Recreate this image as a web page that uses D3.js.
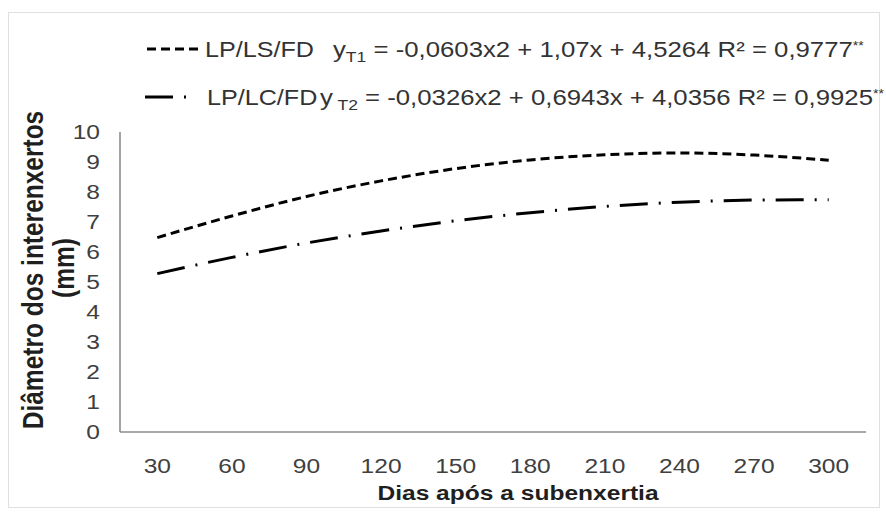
<!DOCTYPE html>
<html>
<head>
<meta charset="utf-8">
<script src="https://cdn.jsdelivr.net/npm/d3@7"></script>
<style>
  html, body { margin: 0; padding: 0; background: #fff; }
  svg { display: block; }
  text { font-family: "Liberation Sans", Arial, sans-serif; }
</style>
</head>
<body>
<svg id="chart" width="886" height="518"></svg>
<script>
// ---- data ----
const categories = [30, 60, 90, 120, 150, 180, 210, 240, 270, 300];
const seriesT1 = [6.48, 7.2, 7.85, 8.37, 8.78, 9.07, 9.24, 9.3, 9.23, 9.06];
const seriesT2 = [5.28, 5.82, 6.3, 6.7, 7.04, 7.31, 7.52, 7.66, 7.73, 7.74];
const yTicks = [0, 1, 2, 3, 4, 5, 6, 7, 8, 9, 10];
const seriesNames = ["LP/LS/FD", "LP/LC/FD"];
const equations = [
  { sub: "T1", body: " = -0,0603x2 + 1,07x + 4,5264 R\u00B2 = 0,9777", sup: "**" },
  { sub: "T2", body: " = -0,0326x2 + 0,6943x + 4,0356 R\u00B2 = 0,9925", sup: "**" }
];
const xTitle = "Dias após a subenxertia";
const yTitle = ["Diâmetro dos interenxertos", "(mm)"];

// ---- layout ----
const W = 886, H = 518;
const SX = 1.17; // horizontal stretch of the original figure's text
const plot = { left: 120, right: 866, top: 132, bottom: 432 };
const dashT1 = "9,5";
const dashT2 = "28,11,2,11";

const svg = d3.select("#chart");

// outer frame
svg.append("rect")
  .attr("x", 8.5).attr("y", 12.5)
  .attr("width", 871).attr("height", 495)
  .attr("fill", "#fff").attr("stroke", "#e0e0e0").attr("stroke-width", 1);

const x = d3.scaleBand().domain(categories).range([plot.left, plot.right]);
const y = d3.scaleLinear().domain([0, 10]).range([plot.bottom, plot.top]);
const cx = d => x(d) + x.bandwidth() / 2;

// axes
const gx = svg.append("g").attr("transform", `translate(0,${plot.bottom})`)
  .call(d3.axisBottom(x).tickSize(0).tickPadding(0));
gx.select(".domain").attr("stroke", "#8c8c8c").attr("stroke-width", 1.6)
  .attr("d", `M${plot.left},0H${plot.right}`);
gx.selectAll(".tick text")
  .attr("x", 0).attr("y", 0).attr("dy", null)
  .attr("transform", `translate(0,41) scale(${SX},1)`)
  .attr("text-anchor", "middle")
  .style("font-size", "21px").attr("fill", "#404040");

const gy = svg.append("g").attr("transform", `translate(${plot.left},0)`)
  .call(d3.axisLeft(y).tickValues(yTicks).tickSize(0).tickPadding(0));
gy.select(".domain").attr("stroke", "#8c8c8c").attr("stroke-width", 1.6)
  .attr("d", `M0,${plot.top}V${plot.bottom}`);
gy.selectAll(".tick text")
  .attr("x", 0).attr("dy", "0.35em")
  .attr("transform", `translate(-20,-1) scale(${SX},1)`)
  .attr("text-anchor", "end")
  .style("font-size", "21px").attr("fill", "#404040");
svg.selectAll(".domain").attr("fill", "none");

// axis titles
svg.append("g").attr("transform", `translate(${(plot.left + plot.right) / 2 + 25},500) scale(${SX},1)`)
  .append("text").attr("text-anchor", "middle")
  .style("font-size", "21px").style("font-weight", "bold").attr("fill", "#1f1f1f")
  .text(xTitle);

yTitle.forEach((t, i) => {
  svg.append("g").attr("transform", `translate(${43 + i * 31},${270 - i * 2}) scale(${SX},1) rotate(-90)`)
    .append("text").attr("text-anchor", "middle")
    .style("font-size", "24.5px").style("font-weight", "bold").attr("fill", "#1f1f1f")
    .text(t);
});

// lines
const line = d3.line().x((d, i) => cx(categories[i])).y(d => y(d)).curve(d3.curveMonotoneX);
svg.append("path").datum(seriesT1).attr("d", line)
  .attr("fill", "none").attr("stroke", "#000").attr("stroke-width", 3)
  .attr("stroke-dasharray", dashT1);
svg.append("path").datum(seriesT2).attr("d", line)
  .attr("fill", "none").attr("stroke", "#000").attr("stroke-width", 3)
  .attr("stroke-dasharray", dashT2);

// legend
const legRows = [
  { y: 49, x0: 147, len: 54, dash: dashT1, nameX: 205, eqX: 333, subGap: "" },
  { y: 97, x0: 145, len: 47, dash: dashT2, nameX: 207, eqX: 320, subGap: " " }
];
legRows.forEach((r, i) => {
  svg.append("line")
    .attr("x1", r.x0).attr("x2", r.x0 + r.len).attr("y1", r.y).attr("y2", r.y)
    .attr("stroke", "#000").attr("stroke-width", 3).attr("stroke-dasharray", r.dash);
  svg.append("g").attr("transform", `translate(${r.nameX},${r.y + 8}) scale(${SX},1)`)
    .append("text").style("font-size", "21.5px").attr("fill", "#333")
    .text(seriesNames[i]);
  const t = svg.append("g").attr("transform", `translate(${r.eqX},${r.y + 8}) scale(${SX},1)`)
    .append("text").style("font-size", "22px").attr("fill", "#333");
  t.append("tspan").text("y");
  t.append("tspan").attr("dy", 5).style("font-size", "15px").text(r.subGap + equations[i].sub);
  t.append("tspan").attr("dy", -5).text(equations[i].body);
  t.append("tspan").attr("dy", -7).style("font-size", "12px").text(equations[i].sup);
});
</script>
</body>
</html>
